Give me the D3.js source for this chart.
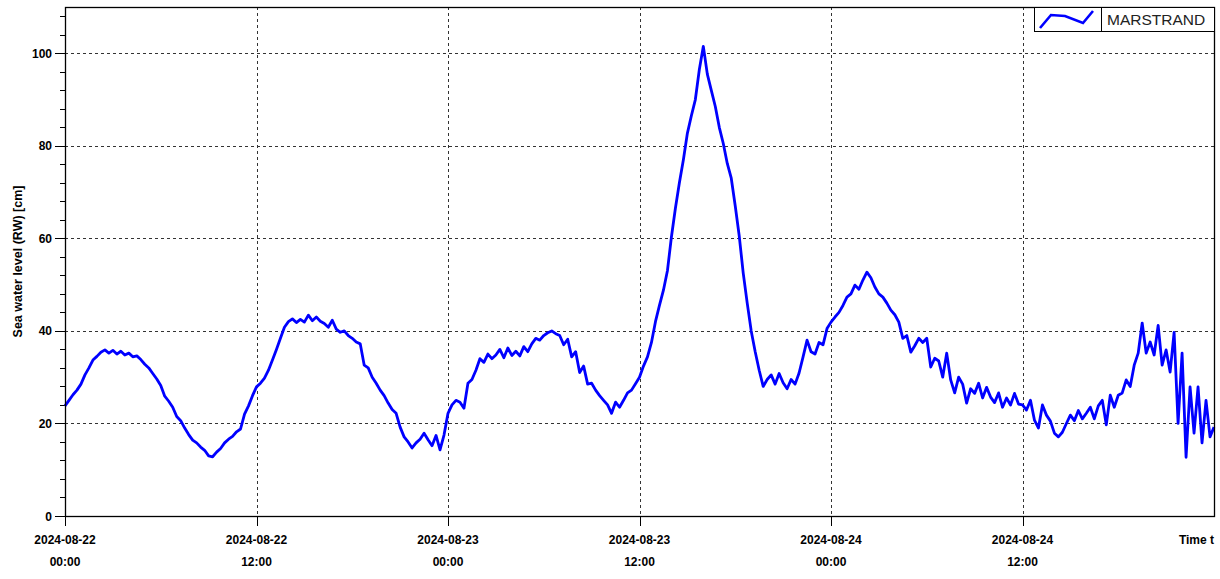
<!DOCTYPE html>
<html>
<head>
<meta charset="utf-8">
<script src="https://cdn.jsdelivr.net/npm/d3@7"></script>
<style>
  body { margin: 0; background: #fff; }
  svg { display: block; font-family: "Liberation Sans", Arial, sans-serif; }
  .tick-label { font-size: 12px; font-weight: bold; fill: #000; }
</style>
</head>
<body>
<script>
// sea level at Marstrand, one reading every 15 minutes
const startTime = new Date(2024, 7, 22, 0, 0);
const stepMinutes = 15;
const seaLevel = [
  23.8, 25.0, 26.2, 27.2,  28.5, 30.5, 32.0, 33.7,  34.5, 35.4, 35.9, 35.2,  35.8, 35.0, 35.6, 34.8,
  35.2, 34.4, 34.6, 33.8,  32.8, 32.0, 30.8, 29.6,  28.2, 25.9, 24.8, 23.5,  21.5, 20.6, 19.0, 17.6,
  16.4, 15.8, 14.9, 14.2,  13.0, 12.8, 13.8, 14.6,  15.8, 16.6, 17.2, 18.2,  18.8, 22.0, 23.8, 26.0,
  27.9, 28.7, 29.8, 31.5,  33.7, 36.0, 38.4, 40.8,  42.0, 42.6, 41.8, 42.5,  41.9, 43.4, 42.2, 43.0,
  42.1, 41.6, 40.8, 42.3,  40.4, 39.7, 40.0, 39.0,  38.4, 37.6, 37.2, 32.6,  32.0, 30.0, 28.7, 27.2,
  26.0, 24.4, 23.0, 22.2,  19.2, 17.1, 16.0, 14.7,  15.8, 16.6, 17.9, 16.5,  15.2, 17.4, 14.3, 17.5,
  22.2, 24.0, 25.0, 24.6,  23.3, 28.7, 29.5, 31.5,  34.0, 33.2, 35.0, 34.0,  34.8, 36.0, 34.2, 36.3,
  34.7, 35.6, 34.6, 36.6,  35.5, 37.2, 38.4, 38.0,  39.0, 39.6, 40.0, 39.4,  39.0, 37.0, 38.2, 34.4,
  35.5, 31.0, 32.4, 28.5,  28.7, 27.2, 26.0, 25.0,  24.0, 22.2, 24.6, 23.5,  25.0, 26.6, 27.2, 28.6,
  30.0, 32.4, 34.4, 37.5,  42.0, 45.5, 48.8, 53.0,  60.3, 66.5, 72.0, 77.0,  82.7, 86.5, 90.0, 96.5,
  101.5, 95.5, 92.0, 88.5, 84.0, 80.5, 76.2, 73.0,  67.0, 60.5, 52.5, 46.0,  40.0, 35.5, 31.5, 28.0,
  29.5, 30.5, 28.5, 30.8,  28.8, 27.5, 29.5, 28.5,  30.9, 34.4, 38.0, 35.5,  35.0, 37.5, 37.0, 40.5,
  41.9, 43.0, 44.0, 45.5,  47.3, 48.0, 49.9, 49.0,  51.0, 52.7, 51.5, 49.5,  48.0, 47.3, 46.0, 44.5,
  43.5, 41.9, 38.4, 39.0,  35.4, 36.8, 38.4, 37.5,  38.4, 32.2, 34.1, 33.5,  30.0, 35.2, 29.4, 26.6,
  30.0, 28.5, 24.4, 27.5,  26.5, 28.7, 25.5, 27.8,  25.7, 24.5, 26.6, 23.5,  25.5, 24.0, 26.5, 24.2,
  24.0, 22.9, 25.0, 20.7,  19.0, 24.0, 21.8, 20.5,  17.9, 17.1, 18.1, 20.0,  21.8, 20.6, 22.8, 21.0,
  22.2, 23.5, 21.0, 23.8,  25.0, 19.7, 26.1, 23.5,  26.1, 26.6, 29.4, 28.0,  32.6, 35.2, 41.7, 35.2,
  37.6, 34.8, 41.2, 32.6,  35.9, 31.1, 39.7, 20.0,  35.2, 12.7, 27.9, 17.9,  27.9, 15.8, 25.0, 17.1,
  19.2
];
const stationName = "MARSTRAND";
const yTitle = "Sea water level (RW) [cm]";
const xTitle = "Time t";
const yMajorTicks = [0, 20, 40, 60, 80, 100];
const yMinorStep = 4;
const yMax = 110;
const spanHours = 72;

const margin = {top: 7, right: 6, bottom: 63, left: 65},
    W = 1220, H = 579,
    width = W - margin.left - margin.right,
    height = H - margin.top - margin.bottom;

const data = seaLevel.map((v, i) => ({t: d3.timeMinute.offset(startTime, i * stepMinutes), v: v}));
const endTime = d3.timeHour.offset(startTime, spanHours);

const svg = d3.select("body").append("svg")
    .attr("width", W)
    .attr("height", H);

const g = svg.append("g")
    .attr("transform", "translate(" + margin.left + "," + margin.top + ")");

const x = d3.scaleTime().domain([startTime, endTime]).range([0, width]);
const y = d3.scaleLinear().domain([0, yMax]).range([height, 0]);

const xTicks = d3.timeHour.every(12).range(startTime, d3.timeMinute.offset(endTime, -1));

// grid
g.append("g").selectAll("line")
    .data(yMajorTicks.filter(d => d > 0))
    .join("line")
    .attr("x1", 0).attr("x2", width)
    .attr("y1", d => Math.round(y(d)) + 0.5).attr("y2", d => Math.round(y(d)) + 0.5)
    .attr("stroke", "#333").attr("stroke-width", 1).attr("stroke-dasharray", "3,3");

g.append("g").selectAll("line")
    .data(xTicks.slice(1))
    .join("line")
    .attr("x1", d => Math.round(x(d)) + 0.5).attr("x2", d => Math.round(x(d)) + 0.5)
    .attr("y1", 0).attr("y2", height)
    .attr("stroke", "#333").attr("stroke-width", 1).attr("stroke-dasharray", "3,3");

// y axis ticks
const minor = d3.range(0, yMax + 0.01, yMinorStep).filter(d => yMajorTicks.indexOf(d) < 0);
g.append("g").selectAll("line")
    .data(minor)
    .join("line")
    .attr("x1", -5).attr("x2", 0)
    .attr("y1", d => Math.round(y(d)) + 0.5).attr("y2", d => Math.round(y(d)) + 0.5)
    .attr("stroke", "#000");

g.append("g").selectAll("line")
    .data(yMajorTicks)
    .join("line")
    .attr("x1", -10).attr("x2", 0)
    .attr("y1", d => Math.round(y(d)) + 0.5).attr("y2", d => Math.round(y(d)) + 0.5)
    .attr("stroke", "#000");

g.append("g").selectAll("text")
    .data(yMajorTicks)
    .join("text")
    .attr("class", "tick-label")
    .attr("x", -13)
    .attr("y", d => y(d) + 4.5)
    .attr("text-anchor", "end")
    .text(d => d);

// x axis ticks
g.append("g").selectAll("line")
    .data(xTicks)
    .join("line")
    .attr("x1", d => Math.round(x(d)) + 0.5).attr("x2", d => Math.round(x(d)) + 0.5)
    .attr("y1", height).attr("y2", height + 10)
    .attr("stroke", "#000");

const fmtDate = d3.timeFormat("%Y-%m-%d"),
    fmtTime = d3.timeFormat("%H:%M");

const xl = g.append("g").selectAll("g")
    .data(xTicks)
    .join("g")
    .attr("transform", d => "translate(" + x(d) + "," + height + ")");
xl.append("text").attr("class", "tick-label").attr("y", 28).attr("text-anchor", "middle").text(d => fmtDate(d));
xl.append("text").attr("class", "tick-label").attr("y", 50).attr("text-anchor", "middle").text(d => fmtTime(d));

g.append("text")
    .attr("class", "tick-label")
    .attr("x", width)
    .attr("y", height + 28)
    .attr("text-anchor", "end")
    .text(xTitle);

svg.append("text")
    .attr("class", "tick-label")
    .style("font-size", "12.5px")
    .attr("transform", "translate(22," + (margin.top + y(55)) + ") rotate(-90)")
    .attr("text-anchor", "middle")
    .text(yTitle);

// the series
const line = d3.line()
    .x(d => x(d.t))
    .y(d => y(d.v));

g.append("path")
    .datum(data)
    .attr("fill", "none")
    .attr("stroke", "#0000ff")
    .attr("stroke-width", 2.8)
    .attr("stroke-linejoin", "round")
    .attr("d", line);

// frame
g.append("rect")
    .attr("x", 0.5).attr("y", 0.5)
    .attr("width", width).attr("height", height)
    .attr("fill", "none").attr("stroke", "#000").attr("stroke-width", 1.3);

// legend
const lg = g.append("g").attr("transform", "translate(" + (width - 180) + ",0)");
lg.append("rect").attr("x", 0.5).attr("y", 0.5).attr("width", 180).attr("height", 24)
    .attr("fill", "#fff").attr("stroke", "#000");
lg.append("line").attr("x1", 67.5).attr("x2", 67.5).attr("y1", 0).attr("y2", 24).attr("stroke", "#000");
lg.append("path")
    .attr("d", "M6,21 L17,8 L31,9 L49,16 L59,4")
    .attr("fill", "none").attr("stroke", "#0000ff").attr("stroke-width", 2.6);
lg.append("text")
    .attr("x", 73).attr("y", 18)
    .style("font-size", "15.5px")
    .attr("fill", "#222")
    .text(stationName);
</script>
</body>
</html>
